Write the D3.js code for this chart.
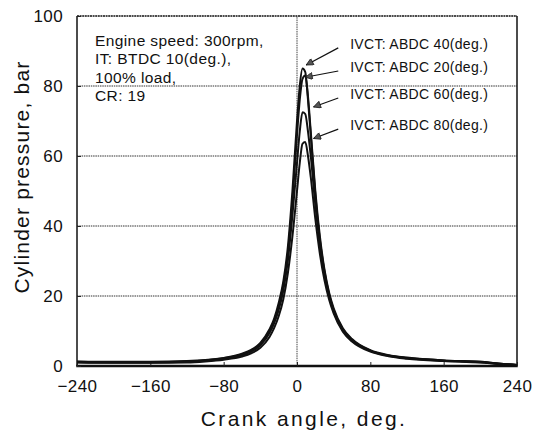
<!DOCTYPE html>
<html>
<head>
<meta charset="utf-8">
<script src="https://cdn.jsdelivr.net/npm/d3@7.9.0/dist/d3.min.js"></script>
<style>
  body { margin: 0; background: #fff; }
  svg { font-family: "Liberation Sans", Arial, sans-serif; }
</style>
</head>
<body>
<svg id="chart" width="544" height="444"></svg>
<script>
// crank angle (deg.) shared by all curves
const crankAngle = [-240,-200,-160,-120,-100,-80,-60,-50,-40,-30,-25,-20,-15,-10,-5,0,3,6,9,12,15,20,25,30,35,40,50,60,80,100,120,160,200,220,240];

// cylinder pressure (bar) for each IVCT setting
const abdc40 = [1.3,1.2,1.2,1.4,1.7,2.3,3.5,4.6,6.6,10.5,13.5,18,24,34,50,70,80,85,84,76,66,49,36,27,20.5,16,10.5,7.5,4.4,3,2.3,1.6,1.2,0.7,0.3];
const abdc20 = [1.2,1.1,1.1,1.3,1.6,2.2,3.3,4.4,6.3,10,13,17,23,32,47,66,76,82,83,77,67,50,37,27.5,21,16.5,10.8,7.7,4.5,3.1,2.4,1.6,1.2,0.7,0.3];
const abdc60 = [1.1,1.0,1.0,1.2,1.5,2.0,3.1,4.1,5.9,9.4,12.2,16,21.5,30,43,58,67,72.5,72,67,60,46,34.5,26,20,15.5,10.2,7.3,4.3,2.9,2.2,1.5,1.1,0.6,0.3];
const abdc80 = [1.0,0.9,0.9,1.0,1.3,1.8,2.7,3.6,5.2,8.3,10.8,14.2,19,26.5,37,50,58,63.5,64,60,54,42,32,24.5,19,15,9.8,7,4.1,2.8,2.1,1.4,1.0,0.6,0.3];

const seriesList = [abdc40, abdc20, abdc60, abdc80];

// annotation labels, their arrow tips (crank, bar) and label heights (bar)
const ivctLabels = ["IVCT: ABDC 40(deg.)", "IVCT: ABDC 20(deg.)", "IVCT: ABDC 60(deg.)", "IVCT: ABDC 80(deg.)"];
const arrowTips = [[10, 86], [9, 82.5], [18, 74], [18, 65]];
const labelLevels = [90.6, 84, 76.3, 67.4];
const labelAngle = 58;
const arrowStartAngle = 45;

const conditions = ["Engine speed: 300rpm,", "IT: BTDC 10(deg.),", "100% load,", "CR: 19"];

const xTicks = [-240, -160, -80, 0, 80, 160, 240];
const yTicks = [0, 20, 40, 60, 80, 100];
const gridY = [20, 40, 60, 80];

const margin = {left: 77, top: 16, right: 27, bottom: 78};
const width = 544, height = 444;

const svg = d3.select("#chart");
const x = d3.scaleLinear().domain([-240, 240]).range([margin.left, width - margin.right]);
const y = d3.scaleLinear().domain([0, 100]).range([height - margin.bottom, margin.top]);

// gridlines
svg.append("g").selectAll("line")
  .data(gridY)
  .enter().append("line")
  .attr("x1", x(-240)).attr("x2", x(240))
  .attr("y1", d => y(d)).attr("y2", d => y(d))
  .attr("stroke", "#333").attr("stroke-width", 1)
  .attr("stroke-dasharray", "1.5,0.8");

svg.append("line")
  .attr("x1", x(0)).attr("x2", x(0))
  .attr("y1", y(0)).attr("y2", y(100))
  .attr("stroke", "#444").attr("stroke-width", 1)
  .attr("stroke-dasharray", "1.5,0.8");

// frame
svg.append("line")
  .attr("x1", x(-240)).attr("x2", x(240)).attr("y1", y(100)).attr("y2", y(100))
  .attr("stroke", "#111").attr("stroke-width", 1.5).attr("stroke-dasharray", "2,0.6");
svg.append("line")
  .attr("x1", x(-240)).attr("x2", x(-240)).attr("y1", y(100)).attr("y2", y(0))
  .attr("stroke", "#111").attr("stroke-width", 1.5);
svg.append("line")
  .attr("x1", x(240)).attr("x2", x(240)).attr("y1", y(100)).attr("y2", y(0))
  .attr("stroke", "#111").attr("stroke-width", 1.5);
svg.append("line")
  .attr("x1", x(-240) - 0.75).attr("x2", x(240) + 0.75).attr("y1", y(0)).attr("y2", y(0))
  .attr("stroke", "#111").attr("stroke-width", 2.5);

// axes
const xAxis = svg.append("g")
  .attr("transform", `translate(0,${y(0)})`)
  .call(d3.axisBottom(x).tickValues(xTicks).tickSizeInner(-4).tickSizeOuter(0).tickPadding(14));
const yAxis = svg.append("g")
  .attr("transform", `translate(${x(-240)},0)`)
  .call(d3.axisLeft(y).tickValues(yTicks).tickSizeInner(-4).tickSizeOuter(0).tickPadding(14));

[xAxis, yAxis].forEach(ax => {
  ax.select(".domain").remove();
  ax.selectAll("line").attr("stroke", "#222");
  ax.selectAll("text")
    .attr("font-family", "'Liberation Sans', Arial, sans-serif")
    .attr("font-size", 17)
    .attr("letter-spacing", 0.4)
    .attr("fill", "#111");
});

// curves
const line = d3.line()
  .x((d, i) => x(crankAngle[i]))
  .y(d => y(d))
  .curve(d3.curveMonotoneX);

svg.append("g").selectAll("path")
  .data(seriesList)
  .enter().append("path")
  .attr("d", d => line(d))
  .attr("fill", "none")
  .attr("stroke", "#111")
  .attr("stroke-width", 2)
  .attr("stroke-linejoin", "round");

// arrows
svg.append("defs").append("marker")
  .attr("id", "head")
  .attr("viewBox", "0 0 10 10")
  .attr("refX", 10).attr("refY", 5)
  .attr("markerWidth", 9).attr("markerHeight", 7)
  .attr("markerUnits", "userSpaceOnUse")
  .attr("orient", "auto")
  .append("path")
  .attr("d", "M0,0 L10,5 L0,10 Z")
  .attr("fill", "#555").attr("stroke", "#111").attr("stroke-width", 1);

svg.append("g").selectAll("line")
  .data(arrowTips)
  .enter().append("line")
  .attr("x1", x(arrowStartAngle))
  .attr("y1", (d, i) => y(labelLevels[i]) - 1)
  .attr("x2", d => x(d[0]))
  .attr("y2", d => y(d[1]))
  .attr("stroke", "#111").attr("stroke-width", 1.2)
  .attr("marker-end", "url(#head)");

svg.append("g").selectAll("text")
  .data(ivctLabels)
  .enter().append("text")
  .attr("x", x(labelAngle))
  .attr("y", (d, i) => y(labelLevels[i]))
  .attr("font-size", 14)
  .attr("letter-spacing", 0.3)
  .attr("fill", "#111")
  .text(d => d);

// test conditions
svg.append("g").selectAll("text")
  .data(conditions)
  .enter().append("text")
  .attr("x", 95)
  .attr("y", (d, i) => 45.5 + i * 18.5)
  .attr("font-size", 15.5)
  .attr("letter-spacing", 0.4)
  .attr("fill", "#111")
  .text(d => d);

// axis titles
svg.append("text")
  .attr("x", 304).attr("y", 426)
  .attr("text-anchor", "middle")
  .attr("font-size", 21)
  .attr("letter-spacing", 2.4)
  .attr("fill", "#111")
  .text("Crank angle, deg.");

svg.append("text")
  .attr("transform", "translate(29,177) rotate(-90)")
  .attr("text-anchor", "middle")
  .attr("font-size", 21)
  .attr("letter-spacing", 1.2)
  .attr("fill", "#111")
  .text("Cylinder pressure, bar");
</script>
</body>
</html>
